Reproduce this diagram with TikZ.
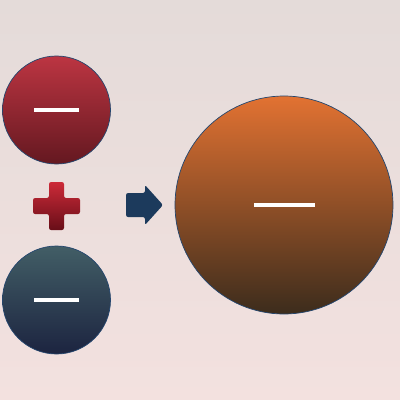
\documentclass[tikz,border=0pt]{standalone}
\usetikzlibrary{positioning}
\definecolor{bgtop}{HTML}{E4DBD9}
\definecolor{bgbot}{HTML}{F3E1DF}
\definecolor{redtop}{HTML}{BC3542}
\definecolor{redmid}{HTML}{A82834}
\definecolor{redbot}{HTML}{641820}
\definecolor{plustop}{HTML}{CC2A38}
\definecolor{plusbot}{HTML}{680E18}
\definecolor{slatetop}{HTML}{425E66}
\definecolor{slatebot}{HTML}{1C2440}
\definecolor{orangetop}{HTML}{E27232}
\definecolor{orangebot}{HTML}{3C2C1C}
\definecolor{arrowblue}{HTML}{1C3A5C}
\definecolor{rimblue}{HTML}{24466E}
\tikzset{
  ball/.style={
    draw=rimblue,
    circle,
    line width=0.5pt,
    inner sep=0pt,
    minimum size=27mm
  },
  bigball/.style={
    ball,
    minimum size=54.5mm
  },
  minus/.style={
    rectangle,
    fill=white,
    inner sep=0pt,
    minimum width=11.25mm,
    minimum height=1mm
  },
  bigminus/.style={
    minus,
    minimum width=15.25mm,
    minimum height=1.2mm
  }
}
\begin{document}
\begin{tikzpicture}[x=0.25mm, y=-0.25mm]
  \useasboundingbox (0,0) rectangle (400,400);
  \shade[top color=bgtop, bottom color=bgbot] (0,0) rectangle (400,400);

  \node[ball, top color=redtop, middle color=redmid, bottom color=redbot] (neg1) at (56.5,110) {};
  \node[ball, top color=slatetop, bottom color=slatebot] (neg2) at (56.5,300) {};
  \node[bigball, top color=orangetop, bottom color=orangebot] (sum) at (284,205) {};

  \node[minus] (m1) at (neg1) {};
  \node[minus] (m2) at (neg2) {};
  \node[bigminus] (m3) at (sum) {};

  % plus sign between the two small balls
  \coordinate (plus) at (56.5,206);
  \shade[top color=plustop, bottom color=plusbot, rounded corners=1.5pt]
    ([shift={(-7.5,-24)}]plus) -- ([shift={(7.5,-24)}]plus) -- ([shift={(7.5,-8)}]plus)
    -- ([shift={(23.5,-8)}]plus) -- ([shift={(23.5,8)}]plus) -- ([shift={(7.5,8)}]plus)
    -- ([shift={(7.5,24)}]plus) -- ([shift={(-7.5,24)}]plus) -- ([shift={(-7.5,8)}]plus)
    -- ([shift={(-23.5,8)}]plus) -- ([shift={(-23.5,-8)}]plus) -- ([shift={(-7.5,-8)}]plus)
    -- cycle;

  % arrow towards the big ball
  \coordinate (arr) at (126,205);
  \fill[arrowblue, rounded corners=1.5pt]
    ([shift={(0,-12)}]arr) -- ([shift={(19,-12)}]arr) -- ([shift={(19,-20)}]arr)
    -- ([shift={(37,0)}]arr) -- ([shift={(19,20)}]arr) -- ([shift={(19,12)}]arr)
    -- ([shift={(0,12)}]arr) -- cycle;
\end{tikzpicture}
\end{document}
